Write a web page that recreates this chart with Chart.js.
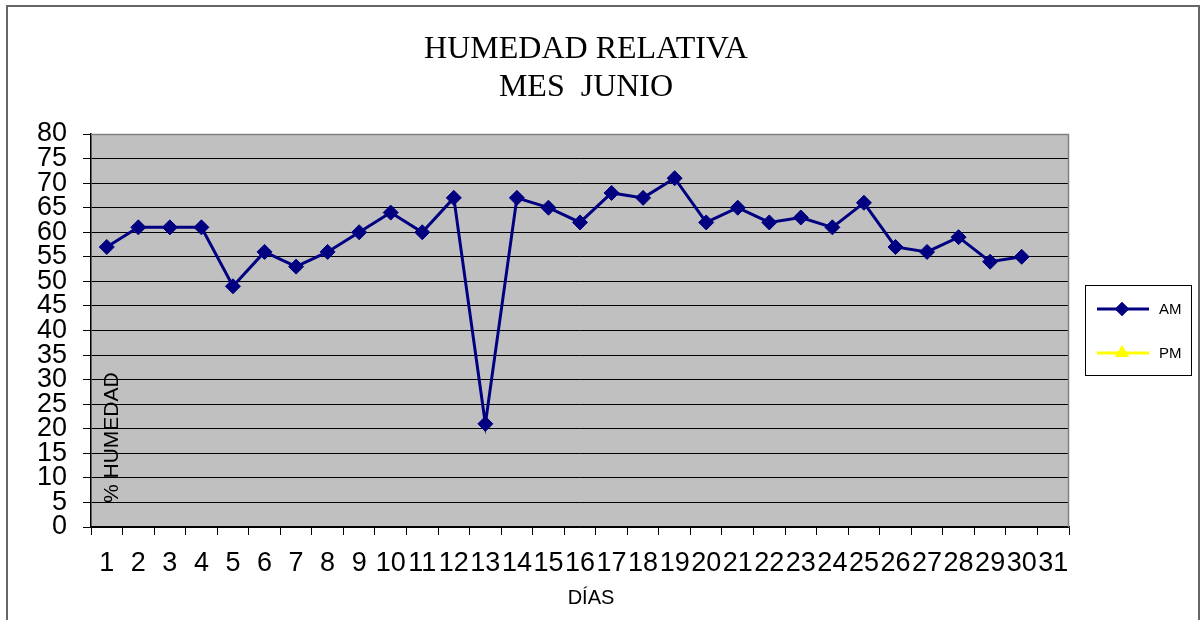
<!DOCTYPE html>
<html>
<head>
<meta charset="utf-8">
<script src="https://cdn.jsdelivr.net/npm/chart.js@4/dist/chart.umd.min.js"></script>
<style>
  body { margin: 0; background: #fff; }
  #wrap { width: 1200px; height: 620px; }
</style>
</head>
<body>
<div id="wrap"><canvas id="humChart" width="1200" height="620"></canvas></div>
<script>
// dias del mes
const dias = ["1","2","3","4","5","6","7","8","9","10","11","12","13","14","15","16",
              "17","18","19","20","21","22","23","24","25","26","27","28","29","30","31"];
// humedad relativa AM (%)
const humAM = [57, 61, 61, 61, 49, 56, 53, 56, 60, 64, 60, 67, 21, 67, 65, 62,
               68, 67, 71, 62, 65, 62, 63, 61, 66, 57, 56, 59, 54, 55, null];
// PM sin datos
const humPM = Array(31).fill(null);
const yTicks = { min: 0, max: 80, step: 5 };

const NAVY = "#000080";
const YELLOW = "#FFFF00";

// fondo gris, marco, titulo, leyenda y rotulos
const decor = {
    id: "decor",
    beforeDraw(chart) {
        const ctx = chart.ctx, a = chart.chartArea;
        ctx.save();
        ctx.fillStyle = "#fff";
        ctx.fillRect(0, 0, chart.width, chart.height);
        ctx.fillStyle = "#C0C0C0";
        ctx.fillRect(a.left, a.top, a.right - a.left, a.bottom - a.top);
        ctx.restore();
    },
    afterDatasetsDraw(chart) {
        const ctx = chart.ctx, a = chart.chartArea;
        ctx.save();
        // borde gris del area de trazado
        ctx.strokeStyle = "#808080";
        ctx.lineWidth = 1.5;
        ctx.beginPath();
        ctx.moveTo(a.left, a.top + 0.5);
        ctx.lineTo(a.right - 0.5, a.top + 0.5);
        ctx.lineTo(a.right - 0.5, a.bottom);
        ctx.stroke();

        // marco exterior
        ctx.strokeStyle = "#666";
        ctx.lineWidth = 2;
        ctx.strokeRect(7, 6, 1192, 640);

        // titulo
        ctx.fillStyle = "#000";
        ctx.font = "32px 'Liberation Serif', 'Times New Roman', serif";
        ctx.textAlign = "center";
        ctx.textBaseline = "alphabetic";
        ctx.fillText("HUMEDAD RELATIVA", 586, 58);
        ctx.fillText("MES\u00a0\u00a0JUNIO", 586, 96);

        // titulo eje x
        ctx.font = "20px 'Liberation Sans', Arial, sans-serif";
        ctx.fillText("DÍAS", 591, 604);

        // titulo eje y (dentro del area)
        ctx.save();
        ctx.translate(118, 503);
        ctx.rotate(-Math.PI / 2);
        ctx.textAlign = "left";
        ctx.font = "21px 'Liberation Sans', Arial, sans-serif";
        ctx.fillText("% HUMEDAD", 0, 0);
        ctx.restore();

        // leyenda
        ctx.fillStyle = "#fff";
        ctx.fillRect(1085.5, 285.5, 106, 90);
        ctx.strokeStyle = "#000";
        ctx.lineWidth = 1;
        ctx.strokeRect(1085.5, 285.5, 106, 90);
        const items = chart.data.datasets.map((ds, i) => ({ ds: ds, y: i === 0 ? 309 : 353 }));
        items.forEach(it => {
            ctx.strokeStyle = it.ds.borderColor;
            ctx.lineWidth = 3;
            ctx.beginPath();
            ctx.moveTo(1097, it.y);
            ctx.lineTo(1149, it.y);
            ctx.stroke();
            Chart.helpers.drawPoint(ctx, {
                pointStyle: it.ds.pointStyle,
                radius: 5,
                rotation: 0,
                borderWidth: 1
            }, 1122, it.y);
            ctx.fillStyle = it.ds.borderColor;
            ctx.strokeStyle = it.ds.borderColor;
            ctx.fill();
            ctx.stroke();
            ctx.fillStyle = "#000";
            ctx.font = "15px 'Liberation Sans', Arial, sans-serif";
            ctx.textAlign = "left";
            ctx.textBaseline = "middle";
            ctx.fillText(it.ds.label, 1159, it.y + 1);
        });
        ctx.restore();
    }
};

window.onload = () => {
    const ctx = document.getElementById("humChart").getContext("2d");
    new Chart(ctx, {
        type: "line",
        data: {
            labels: dias,
            datasets: [
                {
                    label: "AM",
                    data: humAM,
                    borderColor: NAVY,
                    backgroundColor: NAVY,
                    borderWidth: 3,
                    pointStyle: "rectRot",
                    pointRadius: 7.5,
                    pointBorderWidth: 1,
                    fill: false,
                    tension: 0
                },
                {
                    label: "PM",
                    data: humPM,
                    borderColor: YELLOW,
                    backgroundColor: YELLOW,
                    borderWidth: 3,
                    pointStyle: "triangle",
                    pointRadius: 6,
                    fill: false
                }
            ]
        },
        options: {
            responsive: false,
            animation: false,
            layout: { padding: { top: 134, right: 131, left: 0, bottom: 0 } },
            plugins: {
                legend: { display: false },
                title: { display: false },
                tooltip: { enabled: false }
            },
            scales: {
                x: {
                    type: "category",
                    offset: true,
                    grid: {
                        offset: true,
                        drawOnChartArea: false,
                        drawTicks: true,
                        tickLength: 8,
                        color: "#000"
                    },
                    border: { display: true, color: "#000", width: 1.5 },
                    ticks: {
                        autoSkip: false,
                        maxRotation: 0,
                        minRotation: 0,
                        padding: 12,
                        color: "#000",
                        font: { family: "'Liberation Sans', Arial, sans-serif", size: 27 }
                    },
                    afterFit(scale) { scale.height = 93; }
                },
                y: {
                    min: yTicks.min,
                    max: yTicks.max,
                    grid: {
                        color: "#000",
                        lineWidth: 1,
                        tickLength: 8
                    },
                    border: { display: true, color: "#000", width: 1.5 },
                    ticks: {
                        stepSize: yTicks.step,
                        autoSkip: false,
                        padding: 16,
                        color: "#000",
                        font: { family: "'Liberation Sans', Arial, sans-serif", size: 27 }
                    },
                    afterFit(scale) { scale.width = 91; }
                }
            }
        },
        plugins: [decor]
    });
};
</script>
</body>
</html>
